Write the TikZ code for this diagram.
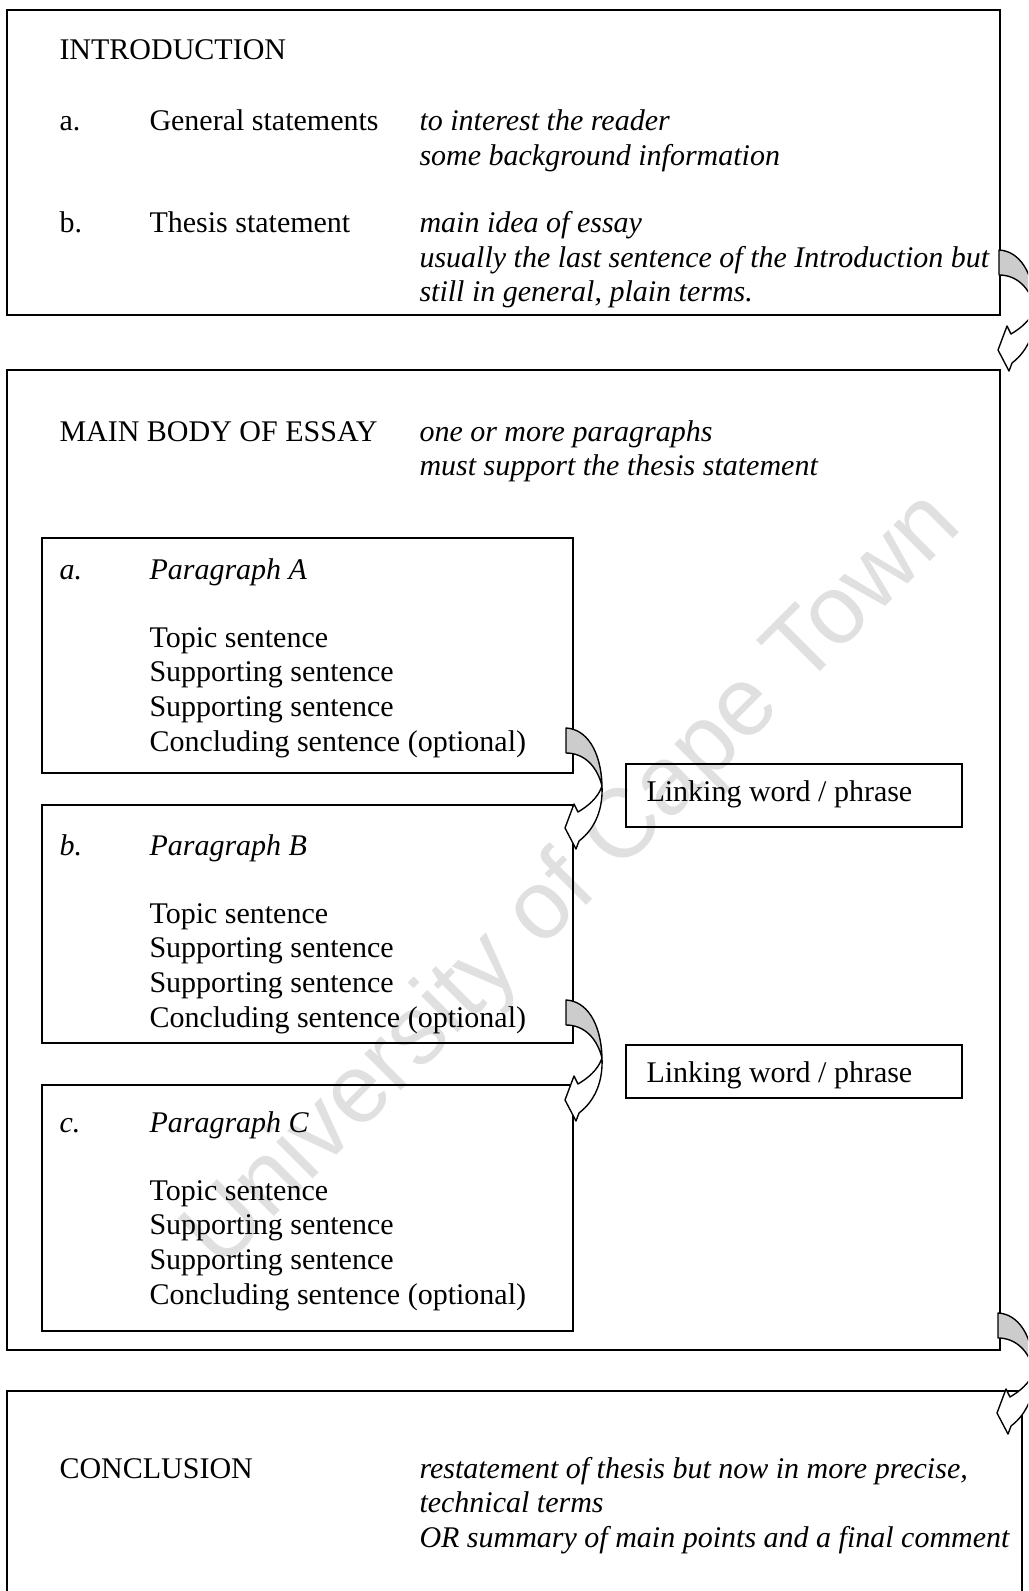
\documentclass[tikz,border=0pt]{standalone}
\usepackage{fontspec}
\setmainfont{Liberation Serif}
\newfontfamily\wmfont{Liberation Sans}

\begin{document}
\begin{tikzpicture}[x=0.4pt, y=-0.4pt, font=\fontsize{12}{13.8}\selectfont,
    box/.style={draw, rectangle, line width=0.55pt, inner sep=0pt},
    txt/.style={anchor=base west, inner sep=0pt},
    itx/.style={txt, font=\fontsize{12}{13.8}\selectfont\itshape},
    arrowline/.style={draw, line width=0.55pt, line join=round}]
    \clip (0,0) rectangle (1028,1591);
    % Wasserzeichen
    \node[text=black!12, rotate=45, font=\fontsize{39}{39}\wmfont] (wm) at (574,882) {University of Cape Town};

    % Rahmen
    \node[box, minimum width=397.2pt, minimum height=122pt] (intro) at (503.5,162.5) {};
    \node[box, minimum width=397.2pt, minimum height=392pt] (body) at (503.5,860) {};
    \node[box, minimum width=406pt, minimum height=100pt] (concl) at (514.5,1516) {};
    \node[box, minimum width=212.4pt, minimum height=94pt] (parA) at (307.5,655.5) {};
    \node[box, minimum width=212.4pt, minimum height=95.2pt] (parB) at (307.5,924) {};
    \node[box, minimum width=212.4pt, minimum height=98.4pt] (parC) at (307.5,1208) {};
    \node[box, minimum width=134.4pt, minimum height=25.2pt] (link1) at (794,795.5) {};
    \node[box, minimum width=134.4pt, minimum height=21.2pt] (link2) at (794,1071.5) {};

    % Einleitung
    \node[txt] (introhead) at (59,60) {INTRODUCTION};
    \node[txt] (ia) at (59,131) {a.};
    \node[txt] (ga) at (149,131) {General statements};
    \foreach \t [count=\i] in {to interest the reader, some background information}
        \node[itx] (gi\i) at (419,{96.5+34.5*\i}) {\t};
    \node[txt] (ib) at (59,233) {b.};
    \node[txt] (tb) at (149,233) {Thesis statement};
    \foreach \t [count=\i] in {main idea of essay, usually the last sentence of the Introduction but, {still in general, plain terms.}}
        \node[itx] (ti\i) at (419,{198.5+34.5*\i}) {\t};

    % Hauptteil
    \node[txt] (bodyhead) at (59,441) {MAIN BODY OF ESSAY};
    \foreach \t [count=\i] in {one or more paragraphs, must support the thesis statement}
        \node[itx] (bi\i) at (419,{406.5+34.5*\i}) {\t};

    % Absaetze
    \foreach \l/\P/\y in {a/A/579, b/B/855, c/C/1132} {
        \node[itx] (l\P) at (59,\y) {\l.};
        \node[itx] (h\P) at (149,\y) {Paragraph \P};
        \foreach \t [count=\i] in {Topic sentence, Supporting sentence, Supporting sentence, Concluding sentence (optional)}
            \node[txt] (s\P\i) at (149,{\y+33.6+34.6*\i}) {\t};
    }
    \node[txt] (lw1) at (646,801) {Linking word / phrase};
    \node[txt] (lw2) at (646,1082) {Linking word / phrase};

    % Schluss
    \node[txt] (conclhead) at (59,1478) {CONCLUSION};
    \foreach \t [count=\i] in {{restatement of thesis but now in more precise,}, technical terms, OR summary of main points and a final comment}
        \node[itx] (ci\i) at (419,{1443.5+34.5*\i}) {\t};

    % gebogene Pfeile
    \foreach \ax/\ay in {999/250, 566/728, 566/1000, 998/1313} {
        \begin{scope}[shift={(\ax,\ay)}]
            \draw[arrowline, fill=black!20] (0,0) .. controls (20,1) and (35,22) .. (36,58)
                .. controls (31,38) and (18,25) .. (0,25) -- cycle;
            \draw[arrowline, fill=white] (36,58) .. controls (37,80) and (30,100) .. (13,113)
                -- (10,121) -- (-1,100) -- (8,76) -- (12,84)
                .. controls (22,78) and (32,70) .. (36,58) -- cycle;
        \end{scope}
    }
\end{tikzpicture}
\end{document}
